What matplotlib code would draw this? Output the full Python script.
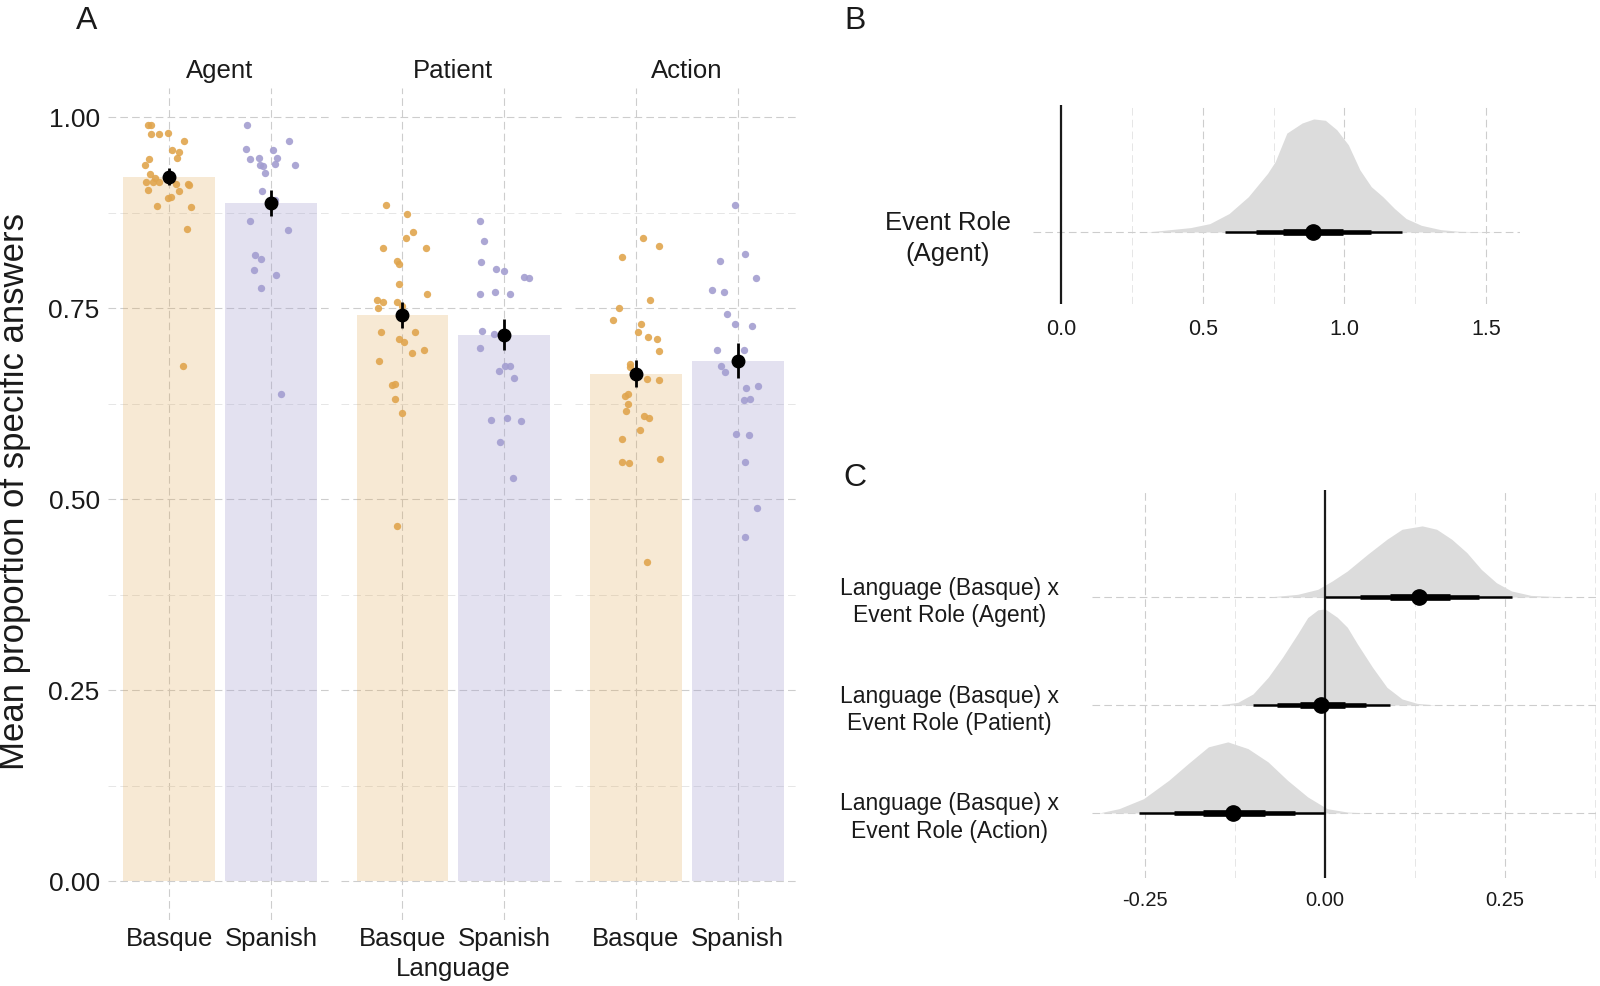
import numpy as np
import matplotlib
matplotlib.use('Agg')
import matplotlib.pyplot as plt

# ---- panel A data: proportions per participant ----
roles = ['Agent', 'Patient', 'Action']
languages = ['Basque', 'Spanish']

agent_basque = [0.990, 0.989, 0.978, 0.978, 0.979, 0.968, 0.957, 0.954, 0.947, 0.945,
                0.937, 0.926, 0.920, 0.915, 0.915, 0.915, 0.913, 0.913, 0.911, 0.904,
                0.903, 0.894, 0.895, 0.884, 0.882, 0.854, 0.674]
agent_basque_jit = [-0.21, -0.18, -0.18, -0.10, -0.01, 0.15, 0.03, 0.10, 0.08, -0.20,
                    -0.24, -0.19, -0.14, -0.16, -0.23, -0.10, 0.07, 0.19, 0.20, -0.21,
                    0.10, -0.01, 0.02, -0.12, 0.22, 0.18, 0.14]
agent_spanish = [0.989, 0.968, 0.958, 0.957, 0.945, 0.947, 0.946, 0.937, 0.936, 0.939,
                 0.937, 0.927, 0.903, 0.891, 0.864, 0.852, 0.820, 0.814, 0.800, 0.793,
                 0.776, 0.637]
agent_spanish_jit = [-0.23, 0.18, -0.24, 0.02, -0.21, -0.12, 0.06, -0.11, -0.08, 0.04,
                     0.24, -0.06, -0.09, 0.04, -0.21, 0.17, -0.16, -0.10, -0.17, 0.05,
                     -0.10, 0.10]

patient_basque = [0.885, 0.873, 0.849, 0.842, 0.829, 0.828, 0.812, 0.808, 0.782, 0.768,
                  0.760, 0.758, 0.758, 0.753, 0.750, 0.718, 0.718, 0.709, 0.706, 0.691,
                  0.695, 0.681, 0.649, 0.651, 0.631, 0.613, 0.465]
patient_basque_jit = [-0.16, 0.04, 0.10, 0.03, -0.19, 0.23, -0.05, -0.03, -0.03, 0.24,
                      -0.25, -0.19, -0.05, 0.00, -0.24, -0.21, 0.12, -0.03, 0.01, 0.09,
                      0.21, -0.23, -0.10, -0.07, -0.07, 0.00, -0.05]
patient_spanish = [0.864, 0.838, 0.810, 0.801, 0.798, 0.791, 0.789, 0.768, 0.771, 0.768,
                   0.720, 0.716, 0.698, 0.674, 0.674, 0.667, 0.658, 0.604, 0.606, 0.602,
                   0.574, 0.527]
patient_spanish_jit = [-0.24, -0.20, -0.23, -0.08, 0.00, 0.19, 0.24, -0.24, -0.09, 0.06,
                       -0.22, -0.10, -0.24, 0.01, 0.06, -0.05, 0.10, -0.13, 0.03, 0.16,
                       -0.04, 0.09]

action_basque = [0.842, 0.831, 0.817, 0.761, 0.750, 0.734, 0.729, 0.719, 0.712, 0.709,
                 0.694, 0.677, 0.673, 0.657, 0.656, 0.638, 0.635, 0.624, 0.615, 0.609,
                 0.606, 0.590, 0.579, 0.548, 0.547, 0.553, 0.418]
action_basque_jit = [0.07, 0.23, -0.14, 0.14, -0.17, -0.22, 0.05, 0.02, 0.12, 0.21,
                     0.23, -0.06, -0.06, 0.11, 0.23, -0.08, -0.11, -0.08, -0.10, 0.08,
                     0.13, 0.04, -0.14, -0.14, -0.07, 0.24, 0.11]
action_spanish = [0.885, 0.821, 0.812, 0.789, 0.774, 0.771, 0.742, 0.729, 0.726, 0.695,
                  0.695, 0.674, 0.666, 0.648, 0.645, 0.630, 0.631, 0.585, 0.584, 0.548,
                  0.488, 0.450]
action_spanish_jit = [-0.03, 0.07, -0.17, 0.18, -0.25, -0.13, -0.11, -0.03, 0.14, -0.20,
                      0.06, -0.16, -0.12, 0.20, 0.08, 0.06, 0.12, -0.02, 0.11, 0.07,
                      0.19, 0.07]

mean_basque = [0.922, 0.741, 0.664]
mean_spanish = [0.888, 0.715, 0.681]
se_basque = [0.011, 0.017, 0.018]
se_spanish = [0.017, 0.020, 0.023]

# ---- panel B: posterior of Event Role (Agent) ----
b_x = [0.30, 0.362, 0.457, 0.525, 0.593, 0.661, 0.729, 0.756, 0.797, 0.851, 0.892, 0.933,
       0.973, 1.014, 1.055, 1.095, 1.136, 1.177, 1.218, 1.272, 1.340, 1.408, 1.543]
b_dens = [0.0, 0.015, 0.039, 0.074, 0.163, 0.312, 0.519, 0.623, 0.875, 0.964, 1.0, 0.988,
          0.905, 0.772, 0.549, 0.401, 0.312, 0.208, 0.119, 0.059, 0.021, 0.006, 0.0]
b_point = 0.889
b_intervals = [(0.580, 1.204), (0.688, 1.095), (0.783, 0.994)]

# ---- panel C: interaction posteriors ----
c_labels = ['Language (Basque) x\nEvent Role (Agent)',
            'Language (Basque) x\nEvent Role (Patient)',
            'Language (Basque) x\nEvent Role (Action)']
c_agent_x = [-0.079, -0.038, -0.010, 0.010, 0.031, 0.059, 0.086, 0.107, 0.135, 0.155,
             0.176, 0.197, 0.217, 0.238, 0.259, 0.286, 0.335]
c_agent_d = [0, 0.028, 0.080, 0.167, 0.271, 0.444, 0.601, 0.705, 0.740, 0.705,
             0.601, 0.462, 0.288, 0.149, 0.063, 0.017, 0]
c_patient_x = [-0.148, -0.121, -0.100, -0.079, -0.059, -0.038, -0.024, -0.010, 0.0, 0.017,
               0.031, 0.045, 0.066, 0.086, 0.107, 0.128, 0.155]
c_patient_d = [0, 0.028, 0.115, 0.288, 0.497, 0.740, 0.910, 0.990, 1.0, 0.913,
               0.809, 0.635, 0.392, 0.184, 0.063, 0.017, 0]
c_action_x = [-0.314, -0.286, -0.252, -0.217, -0.190, -0.162, -0.135, -0.107, -0.079,
              -0.052, -0.024, 0.003, 0.031, 0.059]
c_action_d = [0, 0.045, 0.149, 0.340, 0.514, 0.688, 0.740, 0.670, 0.531, 0.340,
              0.167, 0.045, 0.010, 0]
c_points = [0.131, -0.005, -0.128]
c_intervals = [[(0.000, 0.259), (0.048, 0.214), (0.090, 0.173)],
               [(-0.100, 0.090), (-0.066, 0.057), (-0.035, 0.028)],
               [(-0.259, 0.000), (-0.210, -0.041), (-0.169, -0.083)]]

plt.rcParams['font.family'] = ['Liberation Sans', 'DejaVu Sans']
plt.rcParams['axes.unicode_minus'] = False
plt.rcParams['lines.scale_dashes'] = False

W, H = 1600, 986
fig = plt.figure(figsize=(16, 9.86), dpi=100)

ORANGE = '#E0A54E'
PURPLE = '#A39ED0'
DENS = '#DCDCDC'
GRID = '#CDCDCD'
GRID_MINOR = '#E2E2E2'
DASH = (0, (5.5, 3))
TXT = '#1a1a1a'


def add_panel(left, top, right, bottom):
    return fig.add_axes([left / W, 1 - bottom / H, (right - left) / W, (bottom - top) / H])


def style(ax):
    for s in ax.spines.values():
        s.set_visible(False)
    ax.tick_params(which='both', length=0, colors=TXT)
    ax.set_axisbelow(True)


# ---------------- Panel A ----------------
points = [(agent_basque, agent_basque_jit, agent_spanish, agent_spanish_jit),
          (patient_basque, patient_basque_jit, patient_spanish, patient_spanish_jit),
          (action_basque, action_basque_jit, action_spanish, action_spanish_jit)]

for i, role in enumerate(roles):
    ax = add_panel(108 + i * 233.4, 88, 332 + i * 233.4, 920)
    style(ax)
    ax.set_xlim(0.4, 2.6)
    ax.set_ylim(-0.051, 1.038)
    ax.set_xticks([1, 2])
    ax.set_xticklabels(languages, fontsize=18.5)
    ax.set_yticks([0, 0.25, 0.5, 0.75, 1.0])
    ax.set_yticks([0.125, 0.375, 0.625, 0.875], minor=True)
    ax.grid(which='major', color=GRID, lw=0.8, ls=DASH)
    ax.grid(which='minor', axis='y', color=GRID_MINOR, lw=0.6, ls=DASH)
    ax.tick_params(axis='x', pad=5)
    ax.tick_params(axis='y', pad=6)
    if i == 0:
        ax.set_yticklabels(['0.00', '0.25', '0.50', '0.75', '1.00'], fontsize=19)
    else:
        ax.set_yticklabels([])

    vb, jb, vs, js = points[i]
    ax.bar([1], [mean_basque[i]], width=0.9, color=ORANGE, alpha=0.24, lw=0, zorder=1)
    ax.bar([2], [mean_spanish[i]], width=0.9, color=PURPLE, alpha=0.3, lw=0, zorder=1)
    ax.scatter(1 + np.array(jb), vb, s=28, color=ORANGE, alpha=0.9, lw=0, zorder=2)
    ax.scatter(2 + np.array(js), vs, s=28, color=PURPLE, alpha=0.9, lw=0, zorder=2)
    ax.errorbar([1, 2], [mean_basque[i], mean_spanish[i]],
                yerr=[se_basque[i], se_spanish[i]], fmt='o', color='black',
                ms=9, elinewidth=2, capsize=0, zorder=3)
    ax.text(0.5, 1.0205, role, transform=ax.transAxes, ha='center', va='center',
            fontsize=18.5, color=TXT)

fig.text(453 / W, 1 - 969 / H, 'Language', ha='center', va='center', fontsize=18.5, color=TXT)
fig.text(15 / W, 1 - 492 / H, 'Mean proportion of specific answers', rotation=90,
         ha='center', va='center', fontsize=25, color=TXT)


def draw_interval(ax, y, ivals, pt):
    widths = [1.8, 3.3, 4.8]
    for (lo, hi), lw in zip(ivals, widths):
        ax.plot([lo, hi], [y, y], color='black', lw=lw, solid_capstyle='butt', zorder=4)
    ax.plot([pt], [y], 'o', color='black', ms=11, zorder=5)


# ---------------- Panel B ----------------
axb = add_panel(1033, 105, 1520, 304)
style(axb)
axb.set_xlim(-0.099, 1.62)
axb.set_ylim(0.427, 2.011)
axb.set_xticks([0, 0.5, 1.0, 1.5])
axb.set_xticklabels(['0.0', '0.5', '1.0', '1.5'], fontsize=15.5)
axb.set_xticks([0.25, 0.75, 1.25], minor=True)
axb.set_yticks([1])
axb.set_yticklabels(['Event Role\n(Agent)'], fontsize=18.5)
for lab in axb.get_yticklabels():
    lab.set_multialignment('center')
    lab.set_linespacing(1.4)
axb.tick_params(axis='x', pad=11)
axb.tick_params(axis='y', pad=16)
axb.grid(which='major', color=GRID, lw=0.8, ls=DASH)
axb.grid(which='minor', axis='x', color=GRID_MINOR, lw=0.6, ls=DASH)
axb.fill_between(b_x, 1, 1 + 0.9 * np.array(b_dens), color=DENS, lw=0, zorder=2)
axb.axvline(0, color=TXT, lw=1.6, zorder=3)
draw_interval(axb, 1, b_intervals, b_point)

# ---------------- Panel C ----------------
axc = add_panel(1092, 490, 1600, 878)
style(axc)
axc.set_xlim(-0.3236, 0.3819)
axc.set_ylim(0.398, 3.991)
axc.set_xticks([-0.25, 0, 0.25])
axc.set_xticklabels(['-0.25', '0.00', '0.25'], fontsize=14.5)
axc.set_xticks([-0.125, 0.125, 0.375], minor=True)
axc.set_yticks([3, 2, 1])
axc.set_yticklabels(c_labels, fontsize=16.5)
for lab in axc.get_yticklabels():
    lab.set_multialignment('center')
    lab.set_linespacing(1.25)
axc.tick_params(axis='x', pad=9)
axc.tick_params(axis='y', pad=24)
axc.grid(which='major', color=GRID, lw=0.8, ls=DASH)
axc.grid(which='minor', axis='x', color=GRID_MINOR, lw=0.6, ls=DASH)

c_dens = [(c_agent_x, c_agent_d), (c_patient_x, c_patient_d), (c_action_x, c_action_d)]
for k, (xs, ds) in enumerate(c_dens):
    y0 = 3 - k
    axc.fill_between(xs, y0, y0 + 0.89 * np.array(ds), color=DENS, lw=0, zorder=2)
axc.axvline(0, color=TXT, lw=1.6, zorder=3)
for k in range(3):
    draw_interval(axc, 3 - k, c_intervals[k], c_points[k])

# panel letters
fig.text(87 / W, 1 - 21 / H, 'A', ha='center', va='center', fontsize=23, color=TXT)
fig.text(855 / W, 1 - 21 / H, 'B', ha='center', va='center', fontsize=23, color=TXT)
fig.text(855 / W, 1 - 478 / H, 'C', ha='center', va='center', fontsize=23, color=TXT)

fig.savefig('out.png', dpi=100)
